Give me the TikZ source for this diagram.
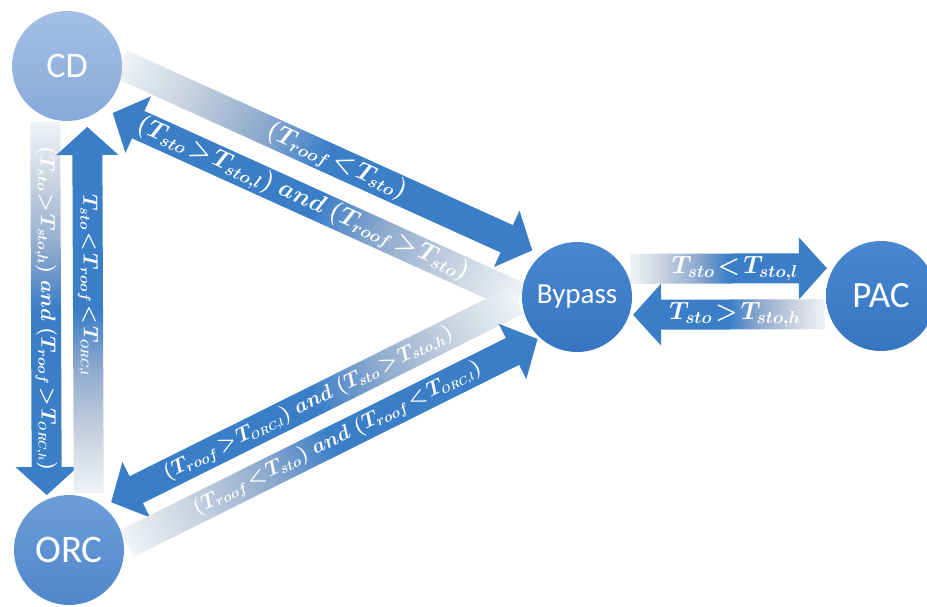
\documentclass[tikz,border=0pt]{standalone}
\usepackage{tikz}
\usepackage{fontspec}
\newfontfamily\circfont{Carlito}
\definecolor{arrowblue}{RGB}{58,126,200}
\definecolor{fadeA}{RGB}{240,243,247}
\definecolor{fadeB}{RGB}{200,211,224}
\definecolor{fadeC}{RGB}{142,170,205}
\pgfdeclarehorizontalshading{arrowshade}{100bp}{color(0bp)=(fadeA); color(25bp)=(fadeA); color(33bp)=(fadeB); color(42bp)=(fadeC); color(50bp)=(arrowblue); color(100bp)=(arrowblue)}
\definecolor{cdtop}{RGB}{163,191,229}
\definecolor{cdbot}{RGB}{136,169,217}
\definecolor{orctop}{RGB}{108,157,216}
\definecolor{orcbot}{RGB}{80,135,203}
\definecolor{bptop}{RGB}{72,134,207}
\definecolor{bpbot}{RGB}{54,118,193}
\pgfdeclarelayer{arrows}
\pgfsetlayers{arrows,main}
\newcommand\shaftw{30}
\newcommand\headw{62}
\newcommand\headlen{28}
\newcommand\rlt{\mathrel{<}}
\newcommand\rgt{\mathrel{>}}
\newcommand\orc[1]{_{\scriptscriptstyle ORC,#1}}
% #1 from, #2 to, #3 offset, #4 start gap, #5 end gap, #6 label pos, #7 label rotation, #8 font size, #9 label
\newcommand\fatarrow[9]{%
  \pgfpointanchor{#1}{center}\pgfgetlastxy{\fax}{\fay}%
  \pgfpointanchor{#2}{center}\pgfgetlastxy{\fbx}{\fby}%
  \pgfmathsetmacro\faang{atan2((\fby)-(\fay),(\fbx)-(\fax))}%
  \pgfmathsetmacro\falen{veclen((\fbx)-(\fax),(\fby)-(\fay))}%
  \pgfmathsetmacro\fatip{\falen-#5}%
  \pgfmathsetmacro\fabase{\fatip-\headlen}%
  \begin{scope}[transform canvas={xshift=\fax,yshift=\fay,rotate=\faang}]
    \shade[shading=arrowshade] (#4,#3-\shaftw/2) -- (\fabase,#3-\shaftw/2) -- (\fabase,#3-\headw/2) -- (\fatip,#3) -- (\fabase,#3+\headw/2) -- (\fabase,#3+\shaftw/2) -- (#4,#3+\shaftw/2) -- cycle;
    \node[lbl,rotate=#7,font={\fontsize{#8}{#8}\selectfont\boldmath\thickmuskip=2mu\medmuskip=2mu}] at (#6,#3) {#9};
  \end{scope}}
\begin{document}
\begin{tikzpicture}[x=1pt,y=-1pt,
  circ/.style={circle,minimum size=110pt,inner sep=0pt,text=white},
  lbl/.style={text=white,inner sep=0pt}]
\useasboundingbox (0,0) rectangle (927,606);
\node[circ,top color=cdtop,bottom color=cdbot,font={\circfont\fontsize{36}{36}\selectfont}] (CD) at (67,66) {CD};
\node[circ,top color=orctop,bottom color=orcbot,font={\circfont\fontsize{39}{39}\selectfont}] (ORC) at (69,550) {ORC};
\node[circ,top color=bptop,bottom color=bpbot,font={\circfont\fontsize{29}{29}\selectfont}] (Bypass) at (577,297) {Bypass};
\node[circ,top color=bptop,bottom color=bpbot,font={\circfont\fontsize{37}{37}\selectfont}] (PAC) at (881,296) {PAC};
\begin{pgfonlayer}{arrows}
\fatarrow{CD}{Bypass}{-24}{48}{60}{285}{0}{24}{$(T_{roof}\rlt T_{sto})$}
\fatarrow{Bypass}{CD}{-24}{52}{61}{290}{180}{24}{$(T_{sto}\rgt T_{sto,l})\ and\ (T_{roof}\rgt T_{sto})$}
\fatarrow{CD}{ORC}{22}{56}{55}{242}{0}{21}{$(T_{sto}\rgt T_{sto,h})\ and\ (T_{roof}\rgt T\orc{h})$}
\fatarrow{ORC}{CD}{20}{57}{61}{265}{180}{21.5}{$T_{sto}\rlt T_{roof}\rlt T\orc{l}$}
\fatarrow{Bypass}{PAC}{-28}{53}{54}{158}{0}{26}{$T_{sto}\rlt T_{sto,l}$}
\fatarrow{PAC}{Bypass}{-18}{56}{56}{146}{180}{26}{$T_{sto}\rgt T_{sto,h}$}
\fatarrow{Bypass}{ORC}{24}{55}{59}{288}{180}{21}{$(T_{roof}\rgt T\orc{l})\ and\ (T_{sto}\rgt T_{sto,h})$}
\fatarrow{ORC}{Bypass}{20}{55}{54}{290}{0}{21.5}{$(T_{roof}\rlt T_{sto})\ and\ (T_{roof}\rlt T\orc{l})$}
\end{pgfonlayer}
\end{tikzpicture}
\end{document}
